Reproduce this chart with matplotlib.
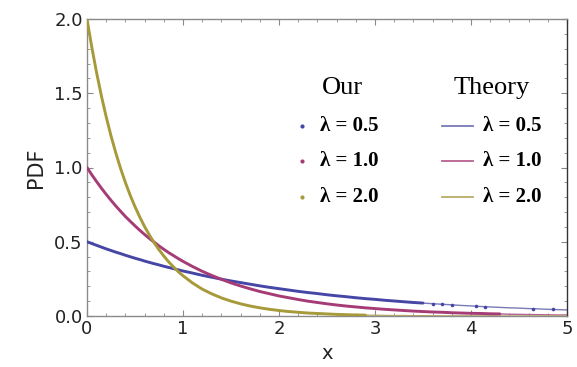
import numpy as np
import matplotlib.pyplot as plt
from matplotlib.lines import Line2D
from matplotlib.ticker import MultipleLocator

# x grid (step 0.05 up to 1, then 0.1)
x = [round(0.05 * i, 2) for i in range(21)] + [round(1.0 + 0.1 * i, 1) for i in range(1, 41)]

# theory curves
pdf_05 = [0.500, 0.488, 0.476, 0.464, 0.452, 0.441, 0.430, 0.420, 0.409, 0.399,
          0.389, 0.380, 0.370, 0.361, 0.352, 0.344, 0.335, 0.327, 0.319, 0.311,
          0.303,
          0.289, 0.274, 0.261, 0.248, 0.236, 0.225, 0.214, 0.203, 0.193,
          0.184, 0.175, 0.166, 0.158, 0.151, 0.143, 0.136, 0.130, 0.123, 0.117,
          0.112, 0.106, 0.101, 0.096, 0.091, 0.087, 0.083, 0.079, 0.075, 0.071,
          0.068, 0.064, 0.061, 0.058, 0.055, 0.053, 0.050, 0.048, 0.045, 0.043,
          0.041]
pdf_10 = [1.000, 0.951, 0.905, 0.861, 0.819, 0.779, 0.741, 0.705, 0.670, 0.638,
          0.607, 0.577, 0.549, 0.522, 0.497, 0.472, 0.449, 0.427, 0.407, 0.387,
          0.368,
          0.333, 0.301, 0.273, 0.247, 0.223, 0.202, 0.183, 0.165, 0.150,
          0.135, 0.123, 0.111, 0.100, 0.091, 0.082, 0.074, 0.067, 0.061, 0.055,
          0.050, 0.045, 0.041, 0.037, 0.033, 0.030, 0.027, 0.025, 0.022, 0.020,
          0.018, 0.017, 0.015, 0.014, 0.012, 0.011, 0.010, 0.009, 0.008, 0.007,
          0.007]
pdf_20 = [2.000, 1.810, 1.638, 1.482, 1.341, 1.213, 1.098, 0.993, 0.899, 0.813,
          0.736, 0.666, 0.602, 0.545, 0.493, 0.446, 0.404, 0.365, 0.331, 0.299,
          0.271,
          0.222, 0.181, 0.149, 0.122, 0.100, 0.082, 0.067, 0.055, 0.045,
          0.037, 0.030, 0.025, 0.020, 0.017, 0.014, 0.011, 0.009, 0.007, 0.006,
          0.005, 0.004, 0.003, 0.003, 0.002, 0.002, 0.002, 0.001, 0.001, 0.001,
          0.001, 0.001, 0.001, 0.000, 0.000, 0.000, 0.000, 0.000, 0.000, 0.000,
          0.000]

# our samples: dense part follows the grid up to n points, then sparse dots
n_05, n_10, n_20 = 46, 54, 40
sparse_x_05 = [3.6, 3.7, 3.8, 4.05, 4.15, 4.65, 4.85]
sparse_y_05 = [0.083, 0.079, 0.075, 0.066, 0.063, 0.049, 0.044]

c_our = ['#4646a6', '#a63c76', '#a69a3a']
c_th = ['#7a7ab8', '#b8608f', '#b8ae66']

fig = plt.figure(figsize=(5.77, 3.67), dpi=100)
ax = fig.add_axes([87/577, 1-316/367, 480/577, 297/367])

series = [(pdf_05, n_05), (pdf_10, n_10), (pdf_20, n_20)]
for (y, n), co, ct in zip(series, c_our, c_th):
    ax.plot(x, y, '-', color=ct, lw=1.0, zorder=2)
    ax.plot(x[:n], y[:n], '-', color=co, lw=2.1, zorder=3, solid_capstyle='round')
ax.plot(sparse_x_05, sparse_y_05, 'o', color=c_our[0], ms=2.6, mew=0, zorder=3)

ax.set_xlim(0, 5)
ax.set_ylim(0, 2)
ax.xaxis.set_major_locator(MultipleLocator(1))
ax.xaxis.set_minor_locator(MultipleLocator(0.2))
ax.yaxis.set_major_locator(MultipleLocator(0.5))
ax.yaxis.set_minor_locator(MultipleLocator(0.1))
ax.yaxis.set_major_formatter(plt.FormatStrFormatter('%.1f'))
ax.tick_params(which='both', direction='in', top=True, right=True,
               color='#888888', labelsize=13, pad=3, labelcolor='#222222')
ax.tick_params(which='major', length=4)
ax.tick_params(which='minor', length=2)
for s in ['left', 'bottom', 'top']:
    ax.spines[s].set_color('#8a8a8a')
ax.spines['right'].set_color('#333333')
for s in ax.spines.values():
    s.set_linewidth(1.0)

ax.set_ylabel('PDF', fontsize=15, color='#222222', labelpad=6)
ax.set_xlabel('x', fontsize=14, color='#222222', labelpad=4)

# manual two-column legend
def fx(px):
    return px / 577

def fy(py):
    return 1 - py / 367

head = dict(family='Liberation Serif', fontsize=19, ha='center', va='center')
fig.text(fx(342), fy(88), 'Our', **head)
fig.text(fx(492), fy(88), 'Theory', **head)
labels = ['λ = 0.5', 'λ = 1.0', 'λ = 2.0']
rows = [126, 161, 197]
for lab, ry, co, ct in zip(labels, rows, c_our, c_th):
    fig.add_artist(Line2D([fx(302)], [fy(ry)], marker='o', ms=3, mew=0,
                          color=co, transform=fig.transFigure))
    fig.add_artist(Line2D([fx(442), fx(473)], [fy(ry), fy(ry)], lw=1.3,
                          color=ct, transform=fig.transFigure))
    fig.text(fx(320), fy(ry), lab, family='Liberation Serif', weight='bold',
             fontsize=15, va='center', ha='left')
    fig.text(fx(483), fy(ry), lab, family='Liberation Serif', weight='bold',
             fontsize=15, va='center', ha='left')

fig.savefig('out.png', dpi=100)
